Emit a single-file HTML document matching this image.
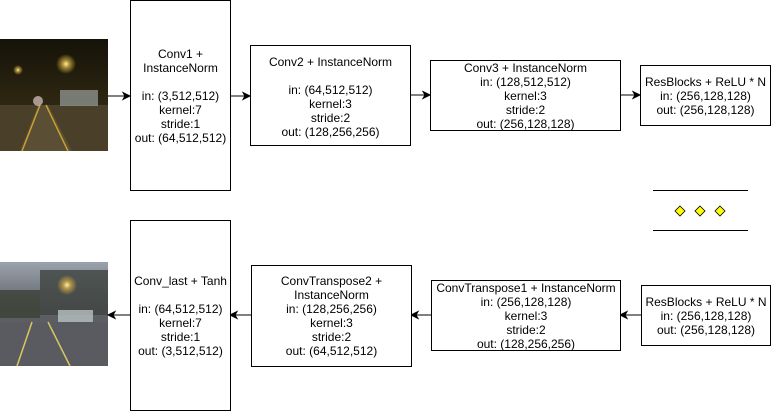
<!DOCTYPE html>
<html><head><meta charset="utf-8"><style>
html,body{margin:0;padding:0;background:#fff;}
body{width:771px;height:411px;position:relative;overflow:hidden;font-family:"Liberation Sans",Arial,sans-serif;font-size:12px;color:#000;}
.b{position:absolute;border:1px solid #000;box-sizing:border-box;background:#fff;display:flex;flex-direction:column;justify-content:center;align-items:center;text-align:center;line-height:14px;white-space:nowrap;}
svg{position:absolute;left:0;top:0;}
</style></head><body>
<svg width="771" height="411">
<defs>
<linearGradient id="n1" x1="0" y1="0" x2="0" y2="1"><stop offset="0" stop-color="#151208"/><stop offset="0.5" stop-color="#2a2410"/><stop offset="1" stop-color="#3d3420"/></linearGradient>
<linearGradient id="n2" x1="0" y1="0" x2="0" y2="1"><stop offset="0" stop-color="#9aa3ad"/><stop offset="0.45" stop-color="#5e6066"/><stop offset="1" stop-color="#55565a"/></linearGradient>
<radialGradient id="l1"><stop offset="0" stop-color="#fff3b0"/><stop offset="0.4" stop-color="#d8b040" stop-opacity=".7"/><stop offset="1" stop-color="#d8b040" stop-opacity="0"/></radialGradient>
</defs>
<rect x="0" y="39" width="108" height="112" fill="url(#n1)"/>
<polygon points="0,105 108,105 108,151 0,151" fill="#4a3f28"/>
<polygon points="20,151 38,105 48,105 72,151" fill="#5a4e35"/>
<line x1="22" y1="151" x2="40" y2="105" stroke="#c9a030" stroke-width="1.5"/>
<line x1="68" y1="151" x2="46" y2="105" stroke="#c9a030" stroke-width="1.5"/>
<rect x="60" y="90" width="38" height="16" fill="#9aa0a0" opacity=".7"/>
<circle cx="66" cy="64" r="10" fill="url(#l1)"/>
<circle cx="18" cy="70" r="5" fill="url(#l1)"/>
<circle cx="38" cy="101" r="5" fill="#e0c8c8" opacity=".7"/>
<rect x="0" y="262" width="108" height="104" fill="url(#n2)"/>
<rect x="40" y="270" width="68" height="45" fill="#3e4440" opacity=".8"/>
<rect x="0" y="290" width="40" height="28" fill="#3b4036" opacity=".8"/>
<polygon points="0,322 108,322 108,366 0,366" fill="#5a5b60"/>
<line x1="17" y1="366" x2="32" y2="322" stroke="#d8c860" stroke-width="1.5"/>
<line x1="70" y1="366" x2="48" y2="322" stroke="#d8c860" stroke-width="1.5"/>
<rect x="58" y="310" width="35" height="12" fill="#b8c0c0" opacity=".8"/>
<circle cx="67" cy="285" r="10" fill="url(#l1)"/>
<g stroke="#000" stroke-width="1" fill="#000">
<line x1="108" y1="96" x2="125" y2="96"/><polygon points="130,96 123,92.5 125,96 123,99.5"/>
<line x1="230" y1="96" x2="245" y2="96"/><polygon points="250,96 243,92.5 245,96 243,99.5"/>
<line x1="411" y1="95" x2="425" y2="95"/><polygon points="430,95 423,91.5 425,95 423,98.5"/>
<line x1="620" y1="95" x2="635" y2="95"/><polygon points="640,95 633,91.5 635,95 633,98.5"/>
<line x1="130" y1="315" x2="113" y2="315"/><polygon points="108,315 115,311.5 113,315 115,318.5"/>
<line x1="251" y1="315" x2="235" y2="315"/><polygon points="230,315 237,311.5 235,315 237,318.5"/>
<line x1="431" y1="315" x2="416" y2="315"/><polygon points="411,315 418,311.5 416,315 418,318.5"/>
<line x1="641" y1="315" x2="625" y2="315"/><polygon points="620,315 627,311.5 625,315 627,318.5"/>
<line x1="653" y1="190.5" x2="748" y2="190.5"/>
<line x1="653" y1="230.5" x2="748" y2="230.5"/>
</g>
<g fill="#ffff00" stroke="#000" stroke-width="0.8">
<polygon points="680,206 685,211 680,216 675,211"/>
<polygon points="700,206 705,211 700,216 695,211"/>
<polygon points="720,206 725,211 720,216 715,211"/>
</g>
</svg>

<div class="b" style="left:130px;top:0;width:101px;height:191px;">Conv1 +<br>InstanceNorm<br><br>in: (3,512,512)<br>kernel:7<br>stride:1<br>out: (64,512,512)</div>
<div class="b" style="left:250px;top:45px;width:161px;height:101px;justify-content:flex-start;padding-top:9px;">Conv2 + InstanceNorm<br><br>in: (64,512,512)<br>kernel:3<br>stride:2<br>out: (128,256,256)</div>
<div class="b" style="left:430px;top:60px;width:191px;height:71px;">Conv3 + InstanceNorm<br>in: (128,512,512)<br>kernel:3<br>stride:2<br>out: (256,128,128)</div>
<div class="b" style="left:640px;top:65px;width:131px;height:61px;">ResBlocks + ReLU * N<br>in: (256,128,128)<br>out: (256,128,128)</div>

<div class="b" style="left:130px;top:220px;width:101px;height:191px;">Conv_last + Tanh<br><br>in: (64,512,512)<br>kernel:7<br>stride:1<br>out: (3,512,512)</div>
<div class="b" style="left:251px;top:265px;width:161px;height:102px;">ConvTranspose2 +<br>InstanceNorm<br>in: (128,256,256)<br>kernel:3<br>stride:2<br>out: (64,512,512)</div>
<div class="b" style="left:431px;top:280px;width:190px;height:71px;">ConvTranspose1 + InstanceNorm<br>in: (256,128,128)<br>kernel:3<br>stride:2<br>out: (128,256,256)</div>
<div class="b" style="left:641px;top:285px;width:130px;height:61px;">ResBlocks + ReLU * N<br>in: (256,128,128)<br>out: (256,128,128)</div>
</body></html>
